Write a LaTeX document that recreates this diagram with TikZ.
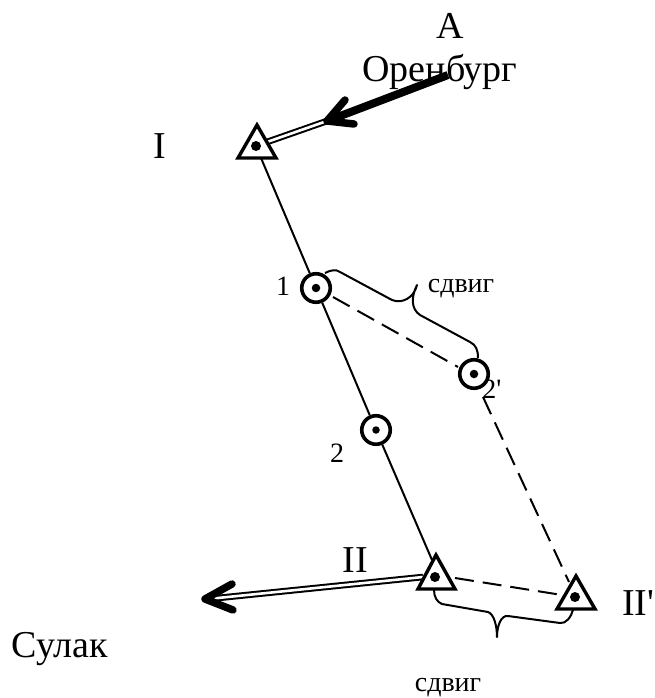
\documentclass[tikz,border=0pt]{standalone}
\usepackage{fontspec}
\setmainfont{Liberation Serif}
\begin{document}
\begin{tikzpicture}[x=1pt,y=-1pt,
  big/.style={inner sep=0pt,font=\fontsize{38}{38}\selectfont},
  small/.style={inner sep=0pt,font=\fontsize{28}{28}\selectfont},
  solidline/.style={line width=2pt},
  dashline/.style={line width=2pt,dash pattern=on 19pt off 9pt},
  bracel/.style={line width=2pt,line join=round},
  ring/.style={circle,draw,line width=3.6pt,fill=white,minimum size=28.5pt,inner sep=0pt},
  tri/.style={line width=3.4pt,fill=white,line join=miter},
  dot/.style={circle,fill=black,inner sep=0pt,minimum size=#1},
  dbl/.style={line width=2pt,double=white,double distance=2.6pt},
  head/.style={line width=7.5pt,line cap=round,line join=round}]
\useasboundingbox (0,0) rectangle (655,698);
\node[big] (tA) at (450,26) {A};
\node[big] (tOr) at (440,72) {Оренбург};
\node[big] (tI) at (160,146) {I};
\node[big] (tII) at (355,560) {II};
\node[big,anchor=east] (tIIp) at (654.5,603) {II\textquotesingle};
\node[big] (tSul) at (60,649) {Сулак};
\node[small] (t1) at (283,286) {1};
\node[small] (t2) at (337,453) {2};
\node[small] (t2p) at (492,389) {2\textquotesingle};
\node[small] (ts1) at (461,289) {сдвиг};
\node[small] (ts2) at (448,688) {сдвиг};
\coordinate (I) at (256,146);
\coordinate (II) at (435,577);
\coordinate (IIp) at (575,597);
\node[ring] (c1) at (316,288) {};
\node[ring] (c2) at (376,430) {};
\node[ring] (c2p) at (474,374) {};
\coordinate (Ib) at (261,158);
\coordinate (IIa) at (432,560);
\draw[solidline] (Ib) -- (c1);
\draw[solidline] (c1) -- (c2);
\draw[solidline] (c2) -- (IIa);
\coordinate (d1) at (333,297);
\coordinate (d2) at (458,367);
\coordinate (d3) at (483,397);
\coordinate (d4) at (569,582);
\coordinate (d5) at (455,578);
\coordinate (d6) at (562,595);
\draw[dashline] (d1) -- (d2);
\draw[dashline] (d3) -- (d4);
\draw[dashline] (d5) -- (d6);
\coordinate (a1) at (267,142);
\coordinate (a2) at (327,121);
\coordinate (a3) at (448,75);
\coordinate (a4) at (345,100);
\coordinate (a5) at (354,124);
\draw[dbl] (a1) -- (a2);
\draw[line width=8pt,line cap=butt] (a2) -- (a3);
\draw[head] (a4) -- (a2) -- (a5);
\coordinate (b1) at (423,577);
\coordinate (b2) at (208,599);
\coordinate (b3) at (232,584);
\coordinate (b4) at (233,610);
\coordinate (b5) at (205,599);
\draw[dbl] (b1) -- (b2);
\draw[head] (b3) -- (b5) -- (b4);
\coordinate (u0) at (325,273);
\coordinate (u1) at (392,300);
\coordinate (u2) at (417,285);
\coordinate (u3) at (420,315);
\coordinate (u4) at (478,358);
\draw[bracel] (u0) .. controls (331,270) and (336,269) .. (340,272) -- (u1)
  .. controls (402,304) and (414,298) .. (u2)
  .. controls (411,297) and (411,309) .. (u3)
  -- (470,342) .. controls (476,345) and (478,350) .. (u4);
\coordinate (l0) at (434,590);
\coordinate (l1) at (488,612);
\coordinate (l2) at (497,637);
\coordinate (l3) at (508,616);
\coordinate (l4) at (573,610);
\draw[bracel] (l0) .. controls (434,597) and (437,602) .. (442,604) -- (l1)
  .. controls (494,614) and (497,626) .. (l2)
  .. controls (497,626) and (501,615) .. (l3)
  -- (560,623) .. controls (566,624) and (571,617) .. (l4);
\draw[tri] (257,125) -- (276,158) -- (238,158) -- cycle;
\draw[tri] (436,555) -- (455,589) -- (418,589) -- cycle;
\draw[tri] (576,576) -- (595,609) -- (557,609) -- cycle;
\node[dot=10pt] (dI) at (I) {};
\node[dot=10pt] (dII) at (II) {};
\node[dot=10pt] (dIIp) at (IIp) {};
\node[dot=8.5pt] (d1c) at (c1) {};
\node[dot=7.5pt] (d2c) at (c2) {};
\node[dot=8.5pt] (d2pc) at (c2p) {};
\end{tikzpicture}
\end{document}
